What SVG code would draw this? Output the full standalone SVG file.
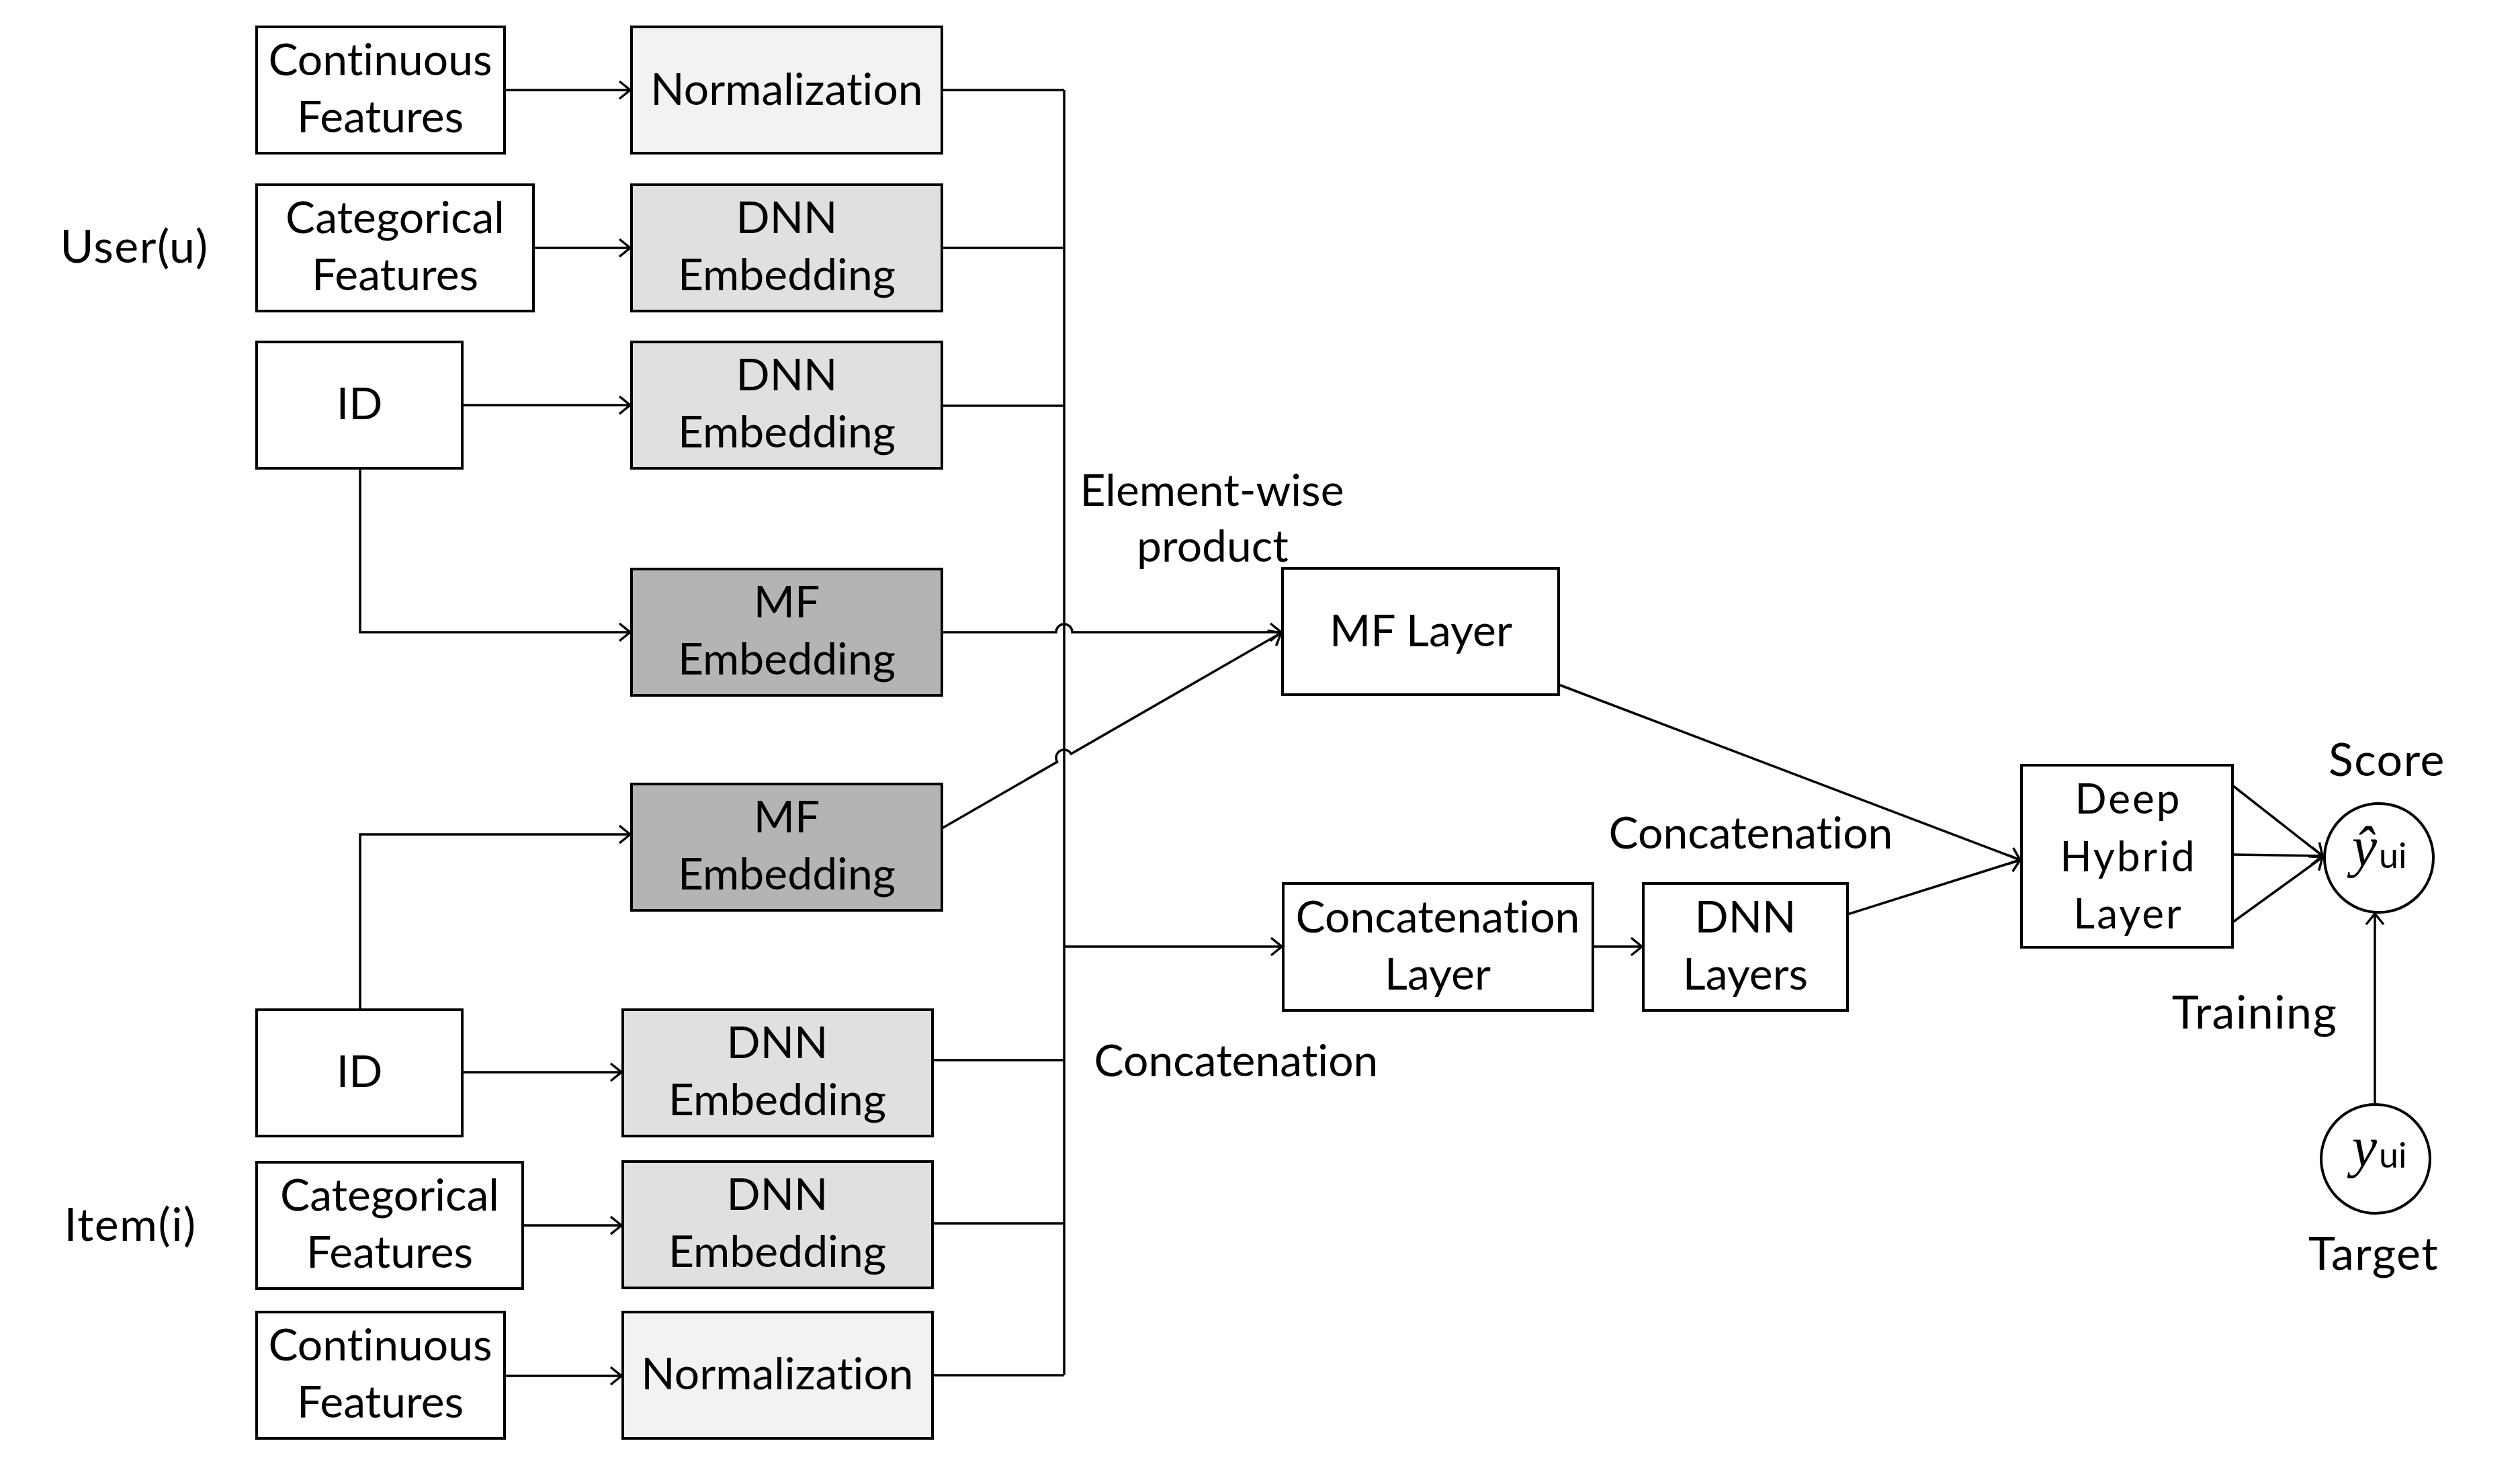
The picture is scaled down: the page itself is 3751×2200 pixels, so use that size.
<svg xmlns="http://www.w3.org/2000/svg" width="3751" height="2200" viewBox="0 0 3751 2200">
<style>
.box{stroke:#000;stroke-width:4;fill:#fff}
.norm{fill:#f2f2f2}
.dnn{fill:#e0e0e0}
.mf{fill:#b4b4b4}
.ln{stroke:#000;stroke-width:3.5;fill:none}
.ar{marker-end:url(#arr)}
text{font-family:Lato,"Liberation Sans",sans-serif;fill:#000;font-variant-ligatures:none}
.t{font-size:66px;text-anchor:middle}
.s{font-size:68px;text-anchor:middle;letter-spacing:1.5px}
.dh{font-size:62px;text-anchor:middle;letter-spacing:3px}
.m{font-family:"Liberation Serif",serif;font-style:italic;font-size:84px}
.sub{font-size:52px}
</style>
<defs>
<marker id="arr" markerUnits="userSpaceOnUse" markerWidth="40" markerHeight="40" viewBox="-20 -20 40 40" refX="0" refY="0" orient="auto">
<path d="M-16,-13 L0,0 L-16,13" fill="none" stroke="#000" stroke-width="3.5"/>
</marker>
</defs>
<rect width="3751" height="2200" fill="#fff"/>

<g id="connectors">
<path class="ln ar" d="M751,134 H938"/>
<path class="ln ar" d="M794,369 H938"/>
<path class="ln ar" d="M688,603 H938"/>
<path class="ln ar" d="M536,697 V941 H938"/>
<path class="ln" d="M1402,134 H1584"/>
<path class="ln" d="M1402,369 H1584"/>
<path class="ln" d="M1402,604 H1584"/>
<path class="ln" d="M1584,134 V2047"/>
<path class="ln ar" d="M1402,941 H1572 A12,12 0 0 1 1596,941 H1907"/>
<path class="ln ar" d="M1402,1233 L1573.6,1134 A12,12 0 0 1 1594.4,1122 L1907,942"/>
<path class="ln ar" d="M536,1503 V1242 H938"/>
<path class="ln ar" d="M688,1596 H925"/>
<path class="ln ar" d="M778,1824 H925"/>
<path class="ln ar" d="M751,2048 H925"/>
<path class="ln" d="M1388,1578 H1584"/>
<path class="ln" d="M1388,1821 H1584"/>
<path class="ln" d="M1388,2047 H1584"/>
<path class="ln ar" d="M1584,1409 H1908"/>
<path class="ln ar" d="M2371,1409 H2444"/>
<path class="ln ar" d="M2320,1019 L3007,1280"/>
<path class="ln ar" d="M2750,1361 L3007,1280"/>
<path class="ln ar" d="M3323,1169 L3457,1274"/>
<path class="ln ar" d="M3323,1272 L3457,1274"/>
<path class="ln ar" d="M3323,1373 L3457,1276"/>
<path class="ln ar" d="M3535,1643 V1360"/>
</g>

<g id="user-cont"><rect class="box" x="382" y="40" width="369" height="188"/><text class="t" x="566" y="112">Continuous</text><text class="t" x="566" y="197">Features</text></g>
<g id="user-norm"><rect class="box norm" x="940" y="40" width="462" height="188"/><text class="t" x="1171" y="156">Normalization</text></g>
<g id="user-cat"><rect class="box" x="382" y="275" width="412" height="188"/><text class="t" x="588" y="347">Categorical</text><text class="t" x="588" y="432">Features</text></g>
<g id="user-dnn1"><rect class="box dnn" x="940" y="275" width="462" height="188"/><text class="t" x="1171" y="347">DNN</text><text class="t" x="1171" y="432">Embedding</text></g>
<g id="user-id"><rect class="box" x="382" y="509" width="306" height="188"/><text class="t" x="535" y="624">ID</text></g>
<g id="user-dnn2"><rect class="box dnn" x="940" y="509" width="462" height="188"/><text class="t" x="1171" y="581">DNN</text><text class="t" x="1171" y="666">Embedding</text></g>
<g id="user-mf"><rect class="box mf" x="940" y="847" width="462" height="188"/><text class="t" x="1171" y="919">MF</text><text class="t" x="1171" y="1004">Embedding</text></g>
<g id="item-mf"><rect class="box mf" x="940" y="1167" width="462" height="188"/><text class="t" x="1171" y="1239">MF</text><text class="t" x="1171" y="1324">Embedding</text></g>
<g id="item-id"><rect class="box" x="382" y="1503" width="306" height="188"/><text class="t" x="535" y="1618">ID</text></g>
<g id="item-dnn1"><rect class="box dnn" x="927" y="1503" width="461" height="188"/><text class="t" x="1157" y="1575">DNN</text><text class="t" x="1157" y="1660">Embedding</text></g>
<g id="item-cat"><rect class="box" x="382" y="1730" width="396" height="188"/><text class="t" x="580" y="1802">Categorical</text><text class="t" x="580" y="1887">Features</text></g>
<g id="item-dnn2"><rect class="box dnn" x="927" y="1729" width="461" height="188"/><text class="t" x="1157" y="1801">DNN</text><text class="t" x="1157" y="1886">Embedding</text></g>
<g id="item-cont"><rect class="box" x="382" y="1953" width="369" height="188"/><text class="t" x="566" y="2025">Continuous</text><text class="t" x="566" y="2110">Features</text></g>
<g id="item-norm"><rect class="box norm" x="927" y="1953" width="461" height="188"/><text class="t" x="1157" y="2068">Normalization</text></g>
<g id="mf-layer"><rect class="box" x="1909" y="846" width="411" height="188"/><text class="t" x="2115" y="962">MF Layer</text></g>
<g id="concat-layer"><rect class="box" x="1910" y="1315" width="461" height="189"/><text class="t" x="2140" y="1388">Concatenation</text><text class="t" x="2140" y="1473">Layer</text></g>
<g id="dnn-layers"><rect class="box" x="2446" y="1315" width="304" height="189"/><text class="t" x="2598" y="1388">DNN</text><text class="t" x="2598" y="1473">Layers</text></g>
<g id="deep-hybrid"><rect class="box" x="3009" y="1139" width="314" height="271"/><text class="dh" x="3168" y="1211">Deep</text><text class="dh" x="3168" y="1297">Hybrid</text><text class="dh" x="3168" y="1382">Layer</text></g>
<g id="score"><circle class="box" cx="3541" cy="1277" r="81"/><text class="m" x="3538" y="1289" text-anchor="end">ŷ</text><text class="sub" x="3541" y="1292">ui</text></g>
<g id="target"><circle class="box" cx="3536" cy="1725" r="81"/><text class="m" x="3538" y="1736" text-anchor="end">y</text><text class="sub" x="3541" y="1738">ui</text></g>

<g id="labels">
<text class="s" x="200" y="391">User(u)</text>
<text class="s" x="194" y="1847">Item(i)</text>
<text class="t" x="1804" y="753">Element-wise</text>
<text class="t" x="1805" y="836">product</text>
<text class="t" x="2606" y="1263">Concatenation</text>
<text class="t" x="1840" y="1602">Concatenation</text>
<text class="s" x="3553" y="1155">Score</text>
<text class="s" x="3356" y="1531">Training</text>
<text class="s" x="3533" y="1890">Target</text>
</g>
</svg>
